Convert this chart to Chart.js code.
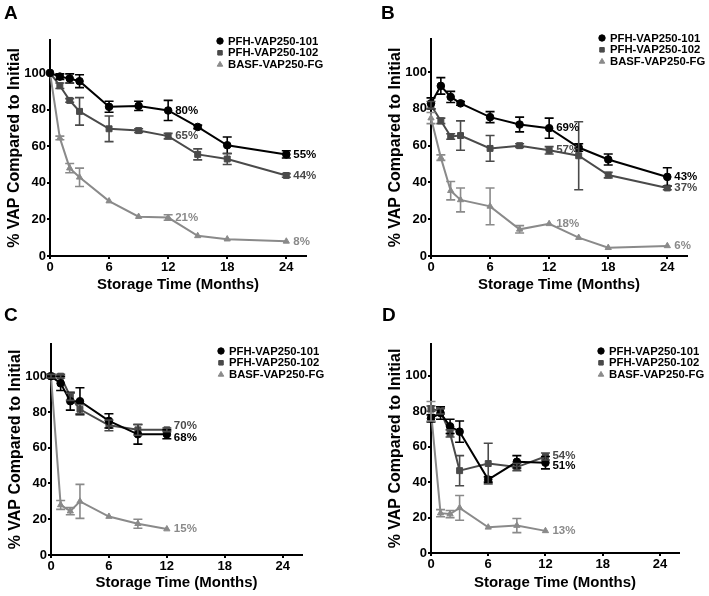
<!DOCTYPE html>
<html lang="en">
<head>
  <meta charset="UTF-8" />
  <title>VAP storage stability</title>
  <style>
    body {
      margin: 0;
      background: #fff;
      font-family: 'Liberation Sans', Arial, sans-serif;
    }
    #wrap {
      position: relative;
      width: 709px;
      height: 596px;
    }
    .panel {
      position: absolute;
    }
    .letter {
      position: absolute;
      font-weight: bold;
      font-size: 19px;
      color: #000;
    }
  </style>
</head>
<body>
  <div id="wrap">
    <div class="panel" style="left:0;top:0"><canvas id="chartA" width="354" height="298"></canvas></div>
    <div class="panel" style="left:354px;top:0"><canvas id="chartB" width="355" height="298"></canvas></div>
    <div class="panel" style="left:0;top:298px"><canvas id="chartC" width="354" height="298"></canvas></div>
    <div class="panel" style="left:354px;top:298px"><canvas id="chartD" width="355" height="298"></canvas></div>
    <div class="letter" style="left:4px;top:2px">A</div>
    <div class="letter" style="left:381px;top:2px">B</div>
    <div class="letter" style="left:4px;top:304px">C</div>
    <div class="letter" style="left:382px;top:304px">D</div>
  </div>

  <script src="https://cdn.jsdelivr.net/npm/chart.js"></script>
  <script>
    // series names
    const seriesNames = ['PFH-VAP250-101', 'PFH-VAP250-102', 'BASF-VAP250-FG'];

    // x values (months)
    const monthsLong = [0, 1, 2, 3, 6, 9, 12, 15, 18, 24];
    const monthsShort = [0, 1, 2, 3, 6, 9, 12];
    const xTicks = [0, 6, 12, 18, 24];
    const yTicks = [0, 20, 40, 60, 80, 100];

    // panel A
    const a101 = [100, 98, 97, 95.5, 81.5, 82, 79.5, 70.5, 60.5, 55.5];
    const a101Err = [0.5, 1.5, 2.5, 3.5, 3, 2.5, 5.5, 1, 4.5, 2];
    const a102 = [100, 93, 85, 79, 69.5, 68.5, 65.5, 55.5, 53, 44];
    const a102Err = [0.5, 1.5, 1, 7.5, 7, 1, 1.5, 3, 3, 1];
    const aBasf = [100, 64.5, 48, 43, 30, 21.5, 21, 11, 9.2, 8];
    const aBasfErr = [0, 1, 2.5, 5, 0.5, 0.5, 1.5, 0.5, 0.5, 0.5];
    const aLabels = [[0, 12, '80%'], [1, 12, '65%'], [2, 12, '21%'], [0, 24, '55%'], [1, 24, '44%'], [2, 24, '8%']];

    // panel B
    const b101 = [83, 92.5, 86.5, 83, 75.5, 71.5, 69.5, 59, 52.5, 43];
    const b101Err = [3, 4.5, 3, 1, 3, 4, 5.5, 2, 3, 5];
    const b102 = [82, 73.5, 65, 65.5, 58.5, 60, 57.5, 54.5, 44, 37];
    const b102Err = [2, 1.5, 1.5, 8, 7, 1, 2, 18.5, 1.5, 1];
    const bBasf = [75, 53.5, 35.5, 30.5, 27, 14.5, 17.5, 10, 4.5, 5.5];
    const bBasfErr = [3, 1.5, 5, 6.5, 10, 2, 0.5, 0.5, 0.5, 0.5];
    const bLabels = [[0, 12, '69%'], [1, 12, '57%'], [2, 12, '18%'], [0, 24, '43%'], [1, 24, '37%'], [2, 24, '6%']];

    // panel C
    const c101 = [100, 96, 86, 86, 75, 67.5, 67.5];
    const c101Err = [1, 4, 5, 7.5, 4, 5.5, 2.5];
    const c102 = [100, 100, 88.5, 81.5, 72.5, 70, 70];
    const c102Err = [1, 1, 2, 2.5, 3, 3, 1];
    const cBasf = [100, 28, 24.5, 30, 21.5, 17.5, 14.5];
    const cBasfErr = [0, 2.5, 2, 9.5, 0.5, 2.5, 0.5];
    const cLabels = [[1, 12, '70%'], [0, 12, '68%'], [2, 12, '15%']];

    // panel D
    const d101 = [76, 79, 71.5, 68.5, 41.5, 51.5, 51];
    const d101Err = [2, 3.5, 4, 6, 1.5, 3.5, 3.5];
    const d102 = [81.5, 80, 67.5, 46.5, 50.5, 48.5, 54.5];
    const d102Err = [1.5, 1.5, 2, 8.5, 11.5, 2, 2];
    const dBasf = [80, 22.5, 22, 25.5, 14.5, 15.5, 12.5];
    const dBasfErr = [5.5, 2, 2, 7, 0.5, 4, 0.5];
    const dLabels = [[1, 12, '54%'], [0, 12, '51%'], [2, 12, '13%']];

    const colors = ['#000000', '#4a4a4a', '#8a8a8a'];
    const styles = ['circle', 'rect', 'triangle'];
    const radii = [3.8, 4.2, 3.6];
    const FONT = "'Liberation Sans', Arial, sans-serif";

    // error bars
    const errBars = {
      id: 'errBars',
      afterDatasetsDraw(chart, args, opts) {
        const ctx = chart.ctx;
        const xs = chart.scales.x, ys = chart.scales.y;
        ctx.save();
        chart.data.datasets.forEach((ds, i) => {
          const errs = opts.errs[i];
          ctx.strokeStyle = colors[i];
          ctx.lineWidth = 1.6;
          ds.data.forEach((p, j) => {
            const e = errs[j];
            if (!e || e < 1) return;
            const px = xs.getPixelForValue(p.x);
            const y1 = ys.getPixelForValue(p.y + e);
            const y2 = ys.getPixelForValue(p.y - e);
            ctx.beginPath();
            ctx.moveTo(px, y1); ctx.lineTo(px, y2);
            ctx.moveTo(px - 4.5, y1); ctx.lineTo(px + 4.5, y1);
            ctx.moveTo(px - 4.5, y2); ctx.lineTo(px + 4.5, y2);
            ctx.stroke();
          });
        });
        ctx.restore();
      }
    };

    // % labels next to points
    const pctLabels = {
      id: 'pctLabels',
      afterDatasetsDraw(chart, args, opts) {
        const ctx = chart.ctx;
        const xs = chart.scales.x, ys = chart.scales.y;
        ctx.save();
        ctx.font = 'bold 11.5px ' + FONT;
        ctx.textBaseline = 'middle';
        opts.items.forEach((it, k) => {
          const [s, x, txt] = it;
          const pt = chart.data.datasets[s].data.find(p => p.x === x);
          const dy = (opts.nudge && opts.nudge[k]) || 0;
          ctx.fillStyle = colors[s];
          ctx.fillText(txt, xs.getPixelForValue(x) + 7, ys.getPixelForValue(pt.y) + dy);
        });
        ctx.restore();
      }
    };

    // legend box
    const legendBox = {
      id: 'legendBox',
      afterDraw(chart, args, opts) {
        const ctx = chart.ctx;
        ctx.save();
        ctx.font = 'bold 11.3px ' + FONT;
        ctx.textBaseline = 'middle';
        seriesNames.forEach((name, i) => {
          const y = opts.y + i * 11.8;
          ctx.fillStyle = colors[i];
          ctx.strokeStyle = colors[i];
          Chart.helpers.drawPoint(ctx, { pointStyle: styles[i], radius: 3.2, borderWidth: 1, rotation: 0 }, opts.x, y);
          ctx.fillStyle = '#000';
          ctx.fillText(name, opts.x + 8, y + 0.5);
        });
        ctx.restore();
      }
    };

    function makeChart(id, months, series, errs, labels, lay) {
      const datasets = series.map((vals, i) => ({
        label: seriesNames[i],
        data: vals.map((v, j) => ({ x: months[j], y: v })),
        borderColor: colors[i],
        backgroundColor: colors[i],
        borderWidth: 2,
        pointStyle: styles[i],
        pointRadius: radii[i],
        pointBorderWidth: 1,
        tension: 0,
        clip: false
      }));
      return new Chart(document.getElementById(id), {
        type: 'line',
        data: { datasets },
        plugins: [errBars, pctLabels, legendBox],
        options: {
          responsive: false,
          animation: false,
          devicePixelRatio: 1,
          layout: { padding: { left: lay.left, top: lay.top, right: lay.right, bottom: 0 } },
          scales: {
            x: {
              type: 'linear',
              min: 0,
              max: 26,
              afterBuildTicks: s => { s.ticks = xTicks.map(v => ({ value: v })); },
              afterFit: s => { s.height = lay.xh; },
              grid: { drawOnChartArea: false, drawTicks: true, tickLength: 3, color: '#000', lineWidth: 2 },
              border: { color: '#000', width: 2 },
              ticks: { color: '#000', padding: 1, font: { family: FONT, size: 13, weight: 'bold' }, maxRotation: 0 },
              title: { display: true, text: 'Storage Time (Months)', color: '#000', padding: { top: 0, bottom: 4 },
                       font: { family: FONT, size: 15, weight: 'bold' } }
            },
            y: {
              min: 0,
              max: 118,
              afterBuildTicks: s => { s.ticks = yTicks.map(v => ({ value: v })); },
              afterFit: s => { s.width = 50; },
              grid: { drawOnChartArea: false, drawTicks: true, tickLength: 3, color: '#000', lineWidth: 2 },
              border: { color: '#000', width: 2 },
              ticks: { color: '#000', padding: 1, font: { family: FONT, size: 13, weight: 'bold' } },
              title: { display: true, text: '% VAP Compared to Initial', color: '#000', padding: { top: 5, bottom: 0 },
                       font: { family: FONT, size: 16, weight: 'bold' } }
            }
          },
          plugins: {
            legend: { display: false },
            tooltip: { enabled: false },
            errBars: { errs },
            pctLabels: { items: labels, nudge: lay.nudge },
            legendBox: { x: lay.lx, y: lay.ly }
          }
        }
      });
    }

    makeChart('chartA', monthsLong, [a101, a102, aBasf], [a101Err, a102Err, aBasfErr], aLabels,
      { left: 0, top: 40, right: 48, xh: 42, lx: 220, ly: 41 });
    makeChart('chartB', monthsLong, [b101, b102, bBasf], [b101Err, b102Err, bBasfErr], bLabels,
      { left: 27, top: 39, right: 22, xh: 42, lx: 248, ly: 38 });
    makeChart('chartC', monthsShort, [c101, c102, cBasf], [c101Err, c102Err, cBasfErr], cLabels,
      { left: 1, top: 46, right: 52, xh: 41, lx: 221, ly: 53, nudge: [-4, 4, 0] });
    makeChart('chartD', monthsShort, [d101, d102, dBasf], [d101Err, d102Err, dBasfErr], dLabels,
      { left: 27, top: 46, right: 30, xh: 43, lx: 247, ly: 53, nudge: [-1, 3, 0] });
  </script>
</body>
</html>
